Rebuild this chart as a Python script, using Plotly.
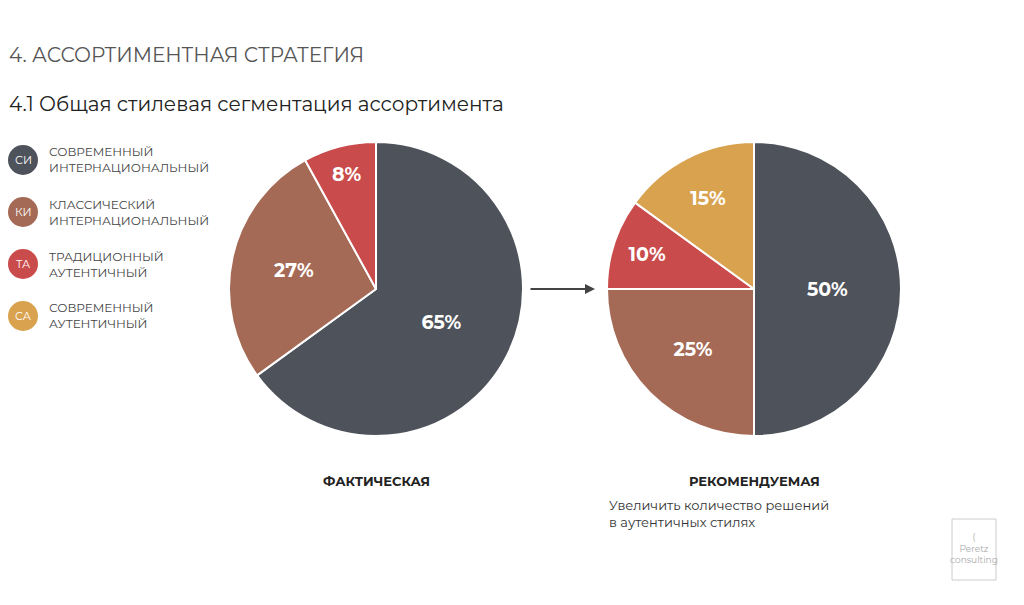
import plotly.graph_objects as go

labels = ["СИ", "КИ", "ТА", "СА"]
legend_names = ["СОВРЕМЕННЫЙ<br>ИНТЕРНАЦИОНАЛЬНЫЙ", "КЛАССИЧЕСКИЙ<br>ИНТЕРНАЦИОНАЛЬНЫЙ",
                "ТРАДИЦИОННЫЙ<br>АУТЕНТИЧНЫЙ", "СОВРЕМЕННЫЙ<br>АУТЕНТИЧНЫЙ"]
colors = ["#4e535b", "#a56a56", "#c94b4b", "#d9a24f"]
actual = [65, 27, 8]
recommended = [50, 25, 10, 15]

W, H = 1024, 605
def px(x): return (x - 9) / W
def py(y): return 1 - (y - 8) / H

fig = go.Figure()
for vals, (x0, x1) in [(actual, (230, 524)), (recommended, (608, 902))]:
    fig.add_trace(go.Pie(
        labels=labels[:len(vals)], values=vals, sort=False, direction="clockwise", rotation=0,
        marker=dict(colors=colors[:len(vals)], line=dict(color="white", width=2)),
        texttemplate="%{value}%", textinfo="text", textposition="inside",
        insidetextorientation="horizontal",
        textfont=dict(family="Montserrat, Inter", size=19, color="white", weight="bold"),
        domain=dict(x=[px(x0), px(x1)], y=[py(436), py(142)]), showlegend=False, hoverinfo="skip"))

ann = [
    dict(x=px(8), y=py(55), text="4. АССОРТИМЕНТНАЯ СТРАТЕГИЯ", font=dict(size=20, color="#555555"), xanchor="left"),
    dict(x=px(8), y=py(104), text="4.1 Общая стилевая сегментация ассортимента", font=dict(size=20, color="#222222"), xanchor="left"),
    dict(x=px(377), y=py(481), text="<b>ФАКТИЧЕСКАЯ</b>", font=dict(size=13, color="#222222"), xanchor="center"),
    dict(x=px(755), y=py(481), text="<b>РЕКОМЕНДУЕМАЯ</b>", font=dict(size=13, color="#222222"), xanchor="center"),
    dict(x=px(608), y=py(513), text="Увеличить количество решений<br>в аутентичных стилях", font=dict(size=13, color="#333333"), xanchor="left", align="left"),
    dict(x=px(975), y=py(548), text="(<br>Peretz<br>consulting", font=dict(size=9, color="#aaaaaa"), xanchor="center", align="center"),
]
shapes = [dict(type="rect", xref="paper", yref="paper", x0=px(953), x1=px(997), y0=py(580), y1=py(519),
               line=dict(color="#cccccc", width=1))]
legend_y = [160, 212, 264, 316]
for i, yy in enumerate(legend_y):
    shapes.append(dict(type="circle", xref="paper", yref="paper", x0=px(9), x1=px(39), y0=py(yy + 15), y1=py(yy - 15),
                       fillcolor=colors[i], line=dict(width=0)))
    ann.append(dict(x=px(24), y=py(yy), text=labels[i], font=dict(size=11, color="white"), xanchor="center"))
    ann.append(dict(x=px(48), y=py(yy), text=legend_names[i], font=dict(size=12, color="#444444"), xanchor="left", align="left"))
for a in ann:
    a.update(xref="paper", yref="paper", showarrow=False, yanchor="middle")
    a["font"].setdefault("family", "Montserrat, Inter, sans-serif")
ann.append(dict(x=px(596), y=py(289), ax=-66, ay=0, xref="paper", yref="paper", axref="pixel", ayref="pixel",
                showarrow=True, arrowhead=2, arrowsize=1, arrowwidth=2, arrowcolor="#444444", text=""))

fig.update_layout(width=W, height=H, margin=dict(l=0, r=0, t=0, b=0), paper_bgcolor="white",
                  annotations=ann, shapes=shapes, font=dict(family="Montserrat, Inter"))
fig.write_html("out.html")
